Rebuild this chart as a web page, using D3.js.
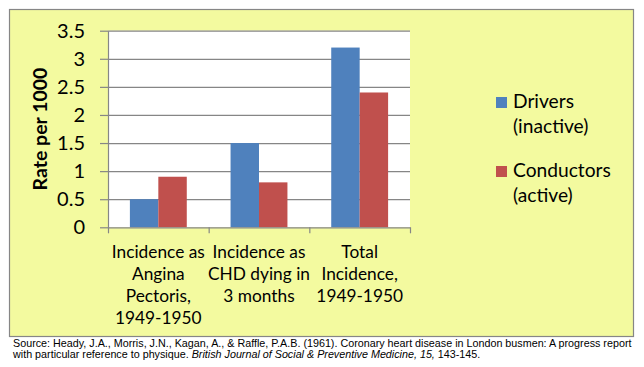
<!DOCTYPE html>
<html><head><meta charset="utf-8">
<script src="https://cdn.jsdelivr.net/npm/d3@7"></script>
<style>
html,body{margin:0;padding:0;background:#fff;}
svg{display:block;}
</style></head>
<body>
<svg id="chart" width="644" height="367"></svg>
<script>
const categories = [
  ["Incidence as", "Angina", "Pectoris,", "1949-1950"],
  ["Incidence as", "CHD dying in", "3 months"],
  ["Total", "Incidence,", "1949-1950"]
];
const seriesNames = [["Drivers", "(inactive)"], ["Conductors", "(active)"]];
const drivers = [0.5, 1.5, 3.2];
const conductors = [0.9, 0.8, 2.4];
const yTicks = [0, 0.5, 1, 1.5, 2, 2.5, 3, 3.5];
const yTickLabels = ["0", "0.5", "1", "1.5", "2", "2.5", "3", "3.5"];
const yTitle = "Rate per 1000";
const colors = ["#4F81BD", "#C0504D"];
const sourceLine1 = "Source: Heady, J.A., Morris, J.N., Kagan, A., & Raffle, P.A.B. (1961). Coronary heart disease in London busmen: A progress report";
const sourceLine2a = "with particular reference to physique. ";
const sourceLine2b = "British Journal of Social & Preventive Medicine, 15,";
const sourceLine2c = " 143-145.";

const svg = d3.select("#chart");
const font = "Lato, 'Open Sans', sans-serif";
const grey = "#868686";

// outer box
svg.append("rect").attr("x", 9.5).attr("y", 9.5).attr("width", 624).attr("height", 327)
  .attr("fill", "#F3FA9F").attr("stroke", grey).attr("stroke-width", 1.2);

const plot = {left: 108, right: 410, top: 30.7, bottom: 227.3};
const y = d3.scaleLinear().domain([0, 3.5]).range([plot.bottom, plot.top]);
const x0 = d3.scaleBand().domain(d3.range(categories.length)).range([plot.left, plot.right]).padding(0);
const x1 = d3.scaleBand().domain([0, 1]).range([0, x0.bandwidth()]).paddingInner(0).paddingOuter(0.77);
const xIdx = d3.scaleLinear().domain([0, categories.length]).range([plot.left, plot.right]);

svg.append("rect").attr("x", plot.left).attr("y", plot.top)
  .attr("width", plot.right - plot.left).attr("height", plot.bottom - plot.top).attr("fill", "#fff");

// gridlines
const grid = svg.append("g").attr("transform", `translate(${plot.left},0)`)
  .call(d3.axisLeft(y).tickValues(yTicks.slice(1)).tickSize(-(plot.right - plot.left)).tickFormat(""));
grid.select(".domain").remove();
grid.selectAll("line").attr("stroke", grey).attr("stroke-width", 1.2);

// bars
const series = [drivers, conductors];
series.forEach((vals, si) => {
  svg.append("g").selectAll("rect").data(vals).join("rect")
    .attr("x", (d, i) => x0(i) + x1(si))
    .attr("y", d => y(d))
    .attr("width", x1.bandwidth())
    .attr("height", d => y(0) - y(d))
    .attr("fill", colors[si]);
});

// y axis
const yAx = svg.append("g").attr("transform", `translate(${plot.left},0)`)
  .call(d3.axisLeft(y).tickValues(yTicks).tickSize(8).tickSizeOuter(0).tickPadding(15)
    .tickFormat((d, i) => yTickLabels[i]));
yAx.select(".domain").attr("stroke", grey).attr("stroke-width", 1.2);
yAx.selectAll("line").attr("stroke", grey).attr("stroke-width", 1.2);
yAx.selectAll("text").attr("font-family", font).attr("font-size", 20).attr("fill", "#000")
  .attr("dy", null).attr("y", 6.5);

// x axis
const xAx = svg.append("g").attr("transform", `translate(0,${plot.bottom})`)
  .call(d3.axisBottom(xIdx).tickValues(d3.range(categories.length + 1)).tickSize(6).tickSizeOuter(0).tickFormat(""));
xAx.select(".domain").attr("stroke", grey).attr("stroke-width", 1.2);
xAx.selectAll("line").attr("stroke", grey).attr("stroke-width", 1.2);

// category labels
categories.forEach((lines, i) => {
  const t = svg.append("text").attr("font-family", font).attr("font-size", 17.3).attr("text-anchor", "middle")
    .attr("fill", "#000");
  lines.forEach((ln, j) => {
    t.append("tspan").attr("x", x0(i) + x0.bandwidth() / 2).attr("y", 257.7 + j * 22.1).text(ln);
  });
});

// y title
svg.append("text").attr("transform", "translate(46.5,129) rotate(-90)")
  .attr("font-family", font).attr("font-size", 19.5).attr("font-weight", "bold")
  .attr("text-anchor", "middle").attr("fill", "#000").text(yTitle);

// legend
const legY = [[97, 108.3, 133.3], [166, 176.7, 201.7]];
seriesNames.forEach((names, i) => {
  svg.append("rect").attr("x", 496).attr("y", legY[i][0]).attr("width", 11).attr("height", 11).attr("fill", colors[i]);
  names.forEach((n, j) => {
    svg.append("text").attr("x", 513).attr("y", legY[i][1 + j]).attr("font-family", font)
      .attr("font-size", 19.2).attr("fill", "#000").text(n);
  });
});

// source
const srcFont = "'Liberation Sans', Arial, sans-serif";
const s1 = svg.append("text").attr("x", 13).attr("y", 347).attr("font-family", srcFont)
  .attr("font-size", 11).attr("fill", "#000").text(sourceLine1);
const w = s1.node().getComputedTextLength();
const fs = 11 * 619 / w;
s1.attr("font-size", fs);
const s2 = svg.append("text").attr("x", 13).attr("y", 358).attr("font-family", srcFont)
  .attr("font-size", fs).attr("fill", "#000");
s2.append("tspan").text(sourceLine2a);
s2.append("tspan").attr("font-style", "italic").text(sourceLine2b);
s2.append("tspan").text(sourceLine2c);
</script>
</body></html>
